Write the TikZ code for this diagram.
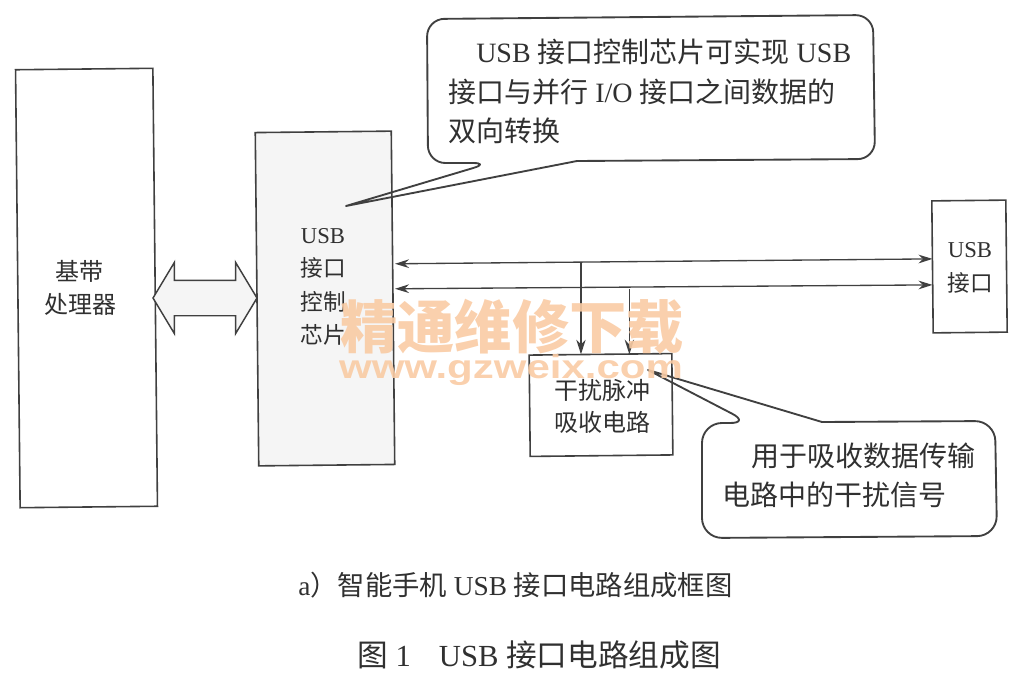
\documentclass[tikz,border=0pt]{standalone}
\usepackage{fontspec}
\usepackage{xcolor}
\setmainfont{Liberation Serif}
\newfontfamily\cjkfont{Noto Sans CJK SC}
\newfontfamily\markfont{Liberation Sans}
\newcommand{\zh}[1]{{\cjkfont #1}}
\usetikzlibrary{arrows.meta,calc,shapes.arrows}
\definecolor{inkline}{HTML}{404040}
\definecolor{inktext}{HTML}{303030}
\definecolor{chipfill}{HTML}{F5F5F5}
\definecolor{markorange}{HTML}{F9CBA4}
\tikzset{
    blockbox/.style={draw=inkline,line width=1.2pt,inner sep=0pt,outer sep=0pt,rotate=0.6},
    blocktext/.style={text=inktext,align=center,inner sep=0pt},
    busline/.style={draw=inkline,line width=1pt,{Stealth[length=10.5pt,width=6.5pt]}-{Stealth[length=10.5pt,width=6.5pt]}},
    busdrop/.style={draw=inkline,line width=1pt,-{Stealth[length=11pt,width=7pt]}},
    calloutline/.style={draw=inkline,line width=1.4pt,line join=round},
    callouttext/.style={text=inktext,align=left,inner sep=0pt,anchor=north west}
}
\begin{document}
\begin{tikzpicture}[x=0.75pt,y=-0.75pt]
    \useasboundingbox (0,0) rectangle (1021,682);

    % Blocks
    \node[blockbox,minimum width=103pt,minimum height=328.5pt] (baseband) at (86.5,288) {};
    \node[blockbox,fill=chipfill,minimum width=102pt,minimum height=250pt] (usbchip) at (325,298.5) {};
    \node[blockbox,minimum width=55.5pt,minimum height=99pt] (usbport) at (969.5,266.5) {};
    \node[blockbox,minimum width=107pt,minimum height=76pt] (absorber) at (601,405) {};

    % Block labels
    \node[blocktext,font=\fontsize{18}{24.8}\selectfont] (basebandlabel) at (80,288) {\zh{基带}\\\zh{处理器}};
    \node[blocktext,font=\fontsize{17}{25.2}\selectfont] (chiplabel) at (323,287) {USB\\\zh{接口}\\\zh{控制}\\\zh{芯片}};
    \node[blocktext,font=\fontsize{17}{25.2}\selectfont] (portlabel) at (970,268) {USB\\\zh{接口}};
    \node[blocktext,font=\fontsize{18}{24}\selectfont] (absorberlabel) at (602,406) {\zh{干扰脉冲}\\\zh{吸收电路}};

    % Baseband <-> chip
    \node[double arrow,draw=inkline,fill=chipfill,line width=1.1pt,inner xsep=0pt,inner ysep=12.75pt,
        minimum height=78pt,double arrow head extend=13.5pt,
        double arrow tip angle=118] (hostlink) at (205,298) {};

    % Data lines
    \draw[busline] ($(usbchip.east)+(2,-34)$) -- coordinate[pos=0.346] (tapa) ($(usbport.west)+(0,-8)$);
    \draw[busline] ($(usbchip.east)+(2,-9)$) -- coordinate[pos=0.436] (tapb) ($(usbport.west)+(0,18)$);
    \draw[busdrop] (tapa) -- (tapa |- absorber.north);
    \draw[busdrop] ($(tapb)+(0,2)$) -- (tapb |- absorber.north);

    % Callouts
    \draw[calloutline] (490,163) -- (346,206) -- (577,161) [rounded corners=13pt] -- (875,159)
        -- (873,15) -- (427,19) -- (428,163) -- cycle;
    \node[callouttext,font=\fontsize{21}{29.6}\selectfont] (usbnote) at (448,39)
        {\hspace*{21pt}USB \zh{接口控制芯片可实现} USB\\\zh{接口与并行} I/O \zh{接口之间数据的}\\\zh{双向转换}};
    \draw[calloutline] (750,423) -- (648,370) -- (822,422) [rounded corners=15pt] -- (995,421)
        -- (997,536) -- (702,538) -- (702,423) -- cycle;
    \node[callouttext,font=\fontsize{21}{29}\selectfont] (absorbernote) at (722,443)
        {\hspace*{22pt}\zh{用于吸收数据传输}\\\zh{电路中的干扰信号}};

    % Captions
    \node[blocktext,anchor=west,font=\fontsize{20.5}{24}\selectfont] (subcaption) at (298,585) {a\zh{）智能手机} USB \zh{接口电路组成框图}};
    \node[blocktext,anchor=west,font=\fontsize{23}{26}\selectfont] (figcaption) at (357,655) {\zh{图} 1\hspace{21pt}USB \zh{接口电路组成图}};

    % Watermark
    \node[inner sep=0pt,text=markorange,opacity=0.9,font=\cjkfont\bfseries\fontsize{43}{50}\selectfont] (markcn) at (512,327) {精通维修下载};
    \node[inner sep=0pt,text=markorange,opacity=0.9,font=\markfont\bfseries\fontsize{25}{28}\selectfont] (markurl) at (511,370) {\scalebox{1.26}[1]{www.gzweix.com}};
\end{tikzpicture}
\end{document}
